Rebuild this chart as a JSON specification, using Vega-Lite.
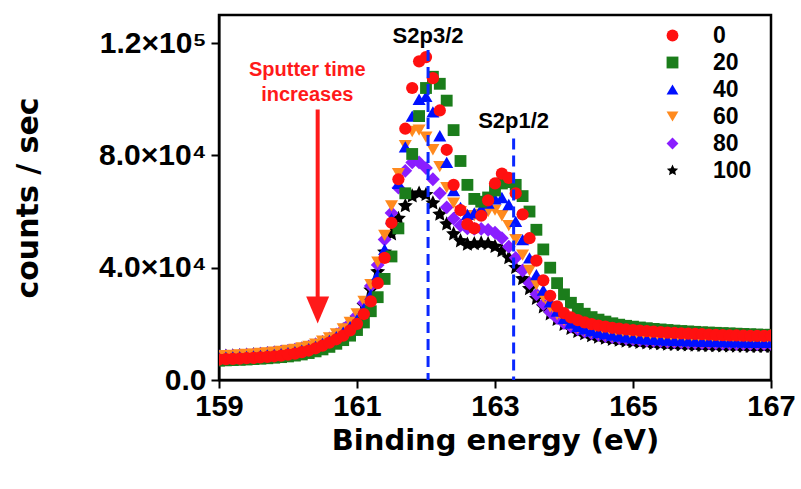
{
  "$schema": "https://vega.github.io/schema/vega-lite/v6.json",
  "width": 552,
  "height": 365,
  "autosize": {"type": "none"},
  "padding": {"left": 219, "top": 15, "right": 30, "bottom": 109},
  "background": "white",
  "config": {
    "view": {"stroke": "black", "strokeWidth": 2.5},
    "font": "Liberation Sans",
    "axis": {
      "grid": false,
      "domainColor": "black",
      "domainWidth": 2,
      "tickColor": "black",
      "tickWidth": 2,
      "tickSize": 8,
      "labelColor": "black",
      "labelFont": "Liberation Sans",
      "labelFontWeight": "bold",
      "labelFontSize": 29,
      "titleColor": "black",
      "titleFont": "DejaVu Sans",
      "titleFontWeight": "bold",
      "titleFontSize": 29,
      "labelFlush": false,
      "labelOverlap": false
    },
    "legend": {
      "orient": "none",
      "legendX": 442,
      "legendY": 9,
      "padding": 0,
      "labelFont": "Liberation Sans",
      "labelFontSize": 23,
      "labelFontWeight": "bold",
      "labelColor": "black",
      "labelOffset": 29,
      "rowPadding": 3,
      "symbolSize": 140,
      "symbolStrokeWidth": 0
    }
  },
  "datasets": {
    "spectra": [
      {"E":159.0,"s0":7300,"s20":6900,"s40":8000,"s60":8600,"s80":8500,"s100":8300},
      {"E":159.1,"s0":7400,"s20":7000,"s40":8100,"s60":8700,"s80":8600,"s100":8400},
      {"E":159.2,"s0":7500,"s20":7100,"s40":8200,"s60":8800,"s80":8700,"s100":8500},
      {"E":159.3,"s0":7600,"s20":7200,"s40":8300,"s60":8950,"s80":8850,"s100":8600},
      {"E":159.4,"s0":7750,"s20":7300,"s40":8450,"s60":9100,"s80":9000,"s100":8750},
      {"E":159.5,"s0":7900,"s20":7450,"s40":8600,"s60":9250,"s80":9150,"s100":8900},
      {"E":159.6,"s0":8050,"s20":7600,"s40":8750,"s60":9450,"s80":9350,"s100":9050},
      {"E":159.7,"s0":8250,"s20":7750,"s40":8950,"s60":9650,"s80":9550,"s100":9250},
      {"E":159.8,"s0":8450,"s20":7950,"s40":9150,"s60":9900,"s80":9800,"s100":9450},
      {"E":159.9,"s0":8700,"s20":8150,"s40":9400,"s60":10200,"s80":10100,"s100":9700},
      {"E":160.0,"s0":9000,"s20":8400,"s40":9700,"s60":10500,"s80":10400,"s100":10000},
      {"E":160.1,"s0":9400,"s20":8700,"s40":10100,"s60":10900,"s80":10800,"s100":10400},
      {"E":160.2,"s0":9900,"s20":9100,"s40":10600,"s60":11400,"s80":11300,"s100":10900},
      {"E":160.3,"s0":10500,"s20":9600,"s40":11200,"s60":12000,"s80":11900,"s100":11500},
      {"E":160.4,"s0":11300,"s20":10200,"s40":12000,"s60":12800,"s80":12700,"s100":12300},
      {"E":160.5,"s0":12200,"s20":10900,"s40":13000,"s60":13800,"s80":13600,"s100":13200},
      {"E":160.6,"s0":13300,"s20":11800,"s40":14100,"s60":15000,"s80":14800,"s100":14300},
      {"E":160.7,"s0":14500,"s20":12900,"s40":15400,"s60":16400,"s80":16200,"s100":15700},
      {"E":160.8,"s0":15800,"s20":14200,"s40":17000,"s60":18200,"s80":18000,"s100":17400},
      {"E":160.9,"s0":17700,"s20":15800,"s40":19000,"s60":20500,"s80":20200,"s100":19500},
      {"E":161.0,"s0":20000,"s20":17800,"s40":21500,"s60":23500,"s80":23000,"s100":22000},
      {"E":161.1,"s0":23500,"s20":20500,"s40":25500,"s60":28000,"s80":27500,"s100":26500},
      {"E":161.2,"s0":28000,"s20":24500,"s40":30500,"s60":34000,"s80":33500,"s100":32000},
      {"E":161.3,"s0":34500,"s20":29500,"s40":37500,"s60":42000,"s80":41000,"s100":38500},
      {"E":161.4,"s0":43500,"s20":36000,"s40":46500,"s60":51500,"s80":50000,"s100":45500},
      {"E":161.5,"s0":56000,"s20":44000,"s40":57500,"s60":62000,"s80":59500,"s100":52000},
      {"E":161.6,"s0":71500,"s20":54000,"s40":70000,"s60":73500,"s80":68500,"s100":57500},
      {"E":161.7,"s0":89500,"s20":66500,"s40":83000,"s60":83500,"s80":74500,"s100":62000},
      {"E":161.8,"s0":104000,"s20":80500,"s40":94000,"s60":88500,"s80":77500,"s100":65500},
      {"E":161.9,"s0":113500,"s20":94000,"s40":100000,"s60":89000,"s80":77500,"s100":66500},
      {"E":162.0,"s0":115000,"s20":104000,"s40":101000,"s60":86500,"s80":75500,"s100":66000},
      {"E":162.1,"s0":107500,"s20":108000,"s40":95500,"s60":82000,"s80":71500,"s100":63000},
      {"E":162.2,"s0":96000,"s20":105500,"s40":87000,"s60":76000,"s80":66500,"s100":59000},
      {"E":162.3,"s0":82000,"s20":99500,"s40":77500,"s60":68500,"s80":61500,"s100":55500},
      {"E":162.4,"s0":69500,"s20":89000,"s40":67500,"s60":63000,"s80":57500,"s100":52000},
      {"E":162.5,"s0":60500,"s20":78000,"s40":61500,"s60":60000,"s80":55000,"s100":49500},
      {"E":162.6,"s0":55500,"s20":69500,"s40":59000,"s60":58500,"s80":54000,"s100":48300},
      {"E":162.7,"s0":54000,"s20":64500,"s40":59500,"s60":58500,"s80":53800,"s100":48500},
      {"E":162.8,"s0":58500,"s20":63500,"s40":61000,"s60":59000,"s80":53800,"s100":48700},
      {"E":162.9,"s0":64000,"s20":65000,"s40":63000,"s60":60000,"s80":53500,"s100":48500},
      {"E":163.0,"s0":70000,"s20":67500,"s40":64500,"s60":60500,"s80":52500,"s100":47500},
      {"E":163.1,"s0":73500,"s20":70000,"s40":65000,"s60":58500,"s80":50500,"s100":46000},
      {"E":163.2,"s0":72000,"s20":70500,"s40":62500,"s60":55000,"s80":47500,"s100":43500},
      {"E":163.3,"s0":66500,"s20":69500,"s40":56500,"s60":50000,"s80":43500,"s100":40000},
      {"E":163.4,"s0":59000,"s20":65500,"s40":50000,"s60":44500,"s80":39000,"s100":36000},
      {"E":163.5,"s0":50500,"s20":60000,"s40":43500,"s60":39000,"s80":34500,"s100":32500},
      {"E":163.6,"s0":42500,"s20":53500,"s40":37500,"s60":34000,"s80":30500,"s100":29000},
      {"E":163.7,"s0":35500,"s20":46500,"s40":32000,"s60":29500,"s80":27000,"s100":26000},
      {"E":163.8,"s0":30000,"s20":40000,"s40":27800,"s60":26000,"s80":24200,"s100":23500},
      {"E":163.9,"s0":26200,"s20":34500,"s40":24500,"s60":23300,"s80":22000,"s100":21500},
      {"E":164.0,"s0":23800,"s20":30500,"s40":22000,"s60":21200,"s80":20300,"s100":19700},
      {"E":164.1,"s0":22300,"s20":27500,"s40":20300,"s60":19700,"s80":19000,"s100":18300},
      {"E":164.2,"s0":21300,"s20":25300,"s40":19100,"s60":18600,"s80":18000,"s100":17200},
      {"E":164.3,"s0":20500,"s20":23600,"s40":18200,"s60":17700,"s80":17200,"s100":16400},
      {"E":164.4,"s0":19900,"s20":22400,"s40":17500,"s60":17000,"s80":16600,"s100":15700},
      {"E":164.5,"s0":19400,"s20":21500,"s40":16900,"s60":16400,"s80":16100,"s100":15200},
      {"E":164.6,"s0":19000,"s20":20800,"s40":16400,"s60":15900,"s80":15650,"s100":14800},
      {"E":164.7,"s0":18600,"s20":20200,"s40":16000,"s60":15500,"s80":15300,"s100":14400},
      {"E":164.8,"s0":18300,"s20":19700,"s40":15600,"s60":15200,"s80":15000,"s100":14100},
      {"E":164.9,"s0":18000,"s20":19300,"s40":15300,"s60":14900,"s80":14700,"s100":13800},
      {"E":165.0,"s0":17800,"s20":19000,"s40":15000,"s60":14650,"s80":14450,"s100":13550},
      {"E":165.1,"s0":17600,"s20":18700,"s40":14800,"s60":14450,"s80":14250,"s100":13350},
      {"E":165.2,"s0":17400,"s20":18450,"s40":14600,"s60":14250,"s80":14050,"s100":13150},
      {"E":165.3,"s0":17200,"s20":18200,"s40":14450,"s60":14100,"s80":13900,"s100":13000},
      {"E":165.4,"s0":17050,"s20":18000,"s40":14300,"s60":13950,"s80":13750,"s100":12850},
      {"E":165.5,"s0":16900,"s20":17800,"s40":14200,"s60":13800,"s80":13600,"s100":12700},
      {"E":165.6,"s0":16750,"s20":17600,"s40":14100,"s60":13700,"s80":13500,"s100":12600},
      {"E":165.7,"s0":16600,"s20":17450,"s40":14000,"s60":13600,"s80":13400,"s100":12500},
      {"E":165.8,"s0":16500,"s20":17300,"s40":13900,"s60":13500,"s80":13300,"s100":12400},
      {"E":165.9,"s0":16400,"s20":17150,"s40":13850,"s60":13400,"s80":13200,"s100":12300},
      {"E":166.0,"s0":16300,"s20":17000,"s40":13800,"s60":13350,"s80":13150,"s100":12250},
      {"E":166.1,"s0":16200,"s20":16900,"s40":13750,"s60":13300,"s80":13100,"s100":12200},
      {"E":166.2,"s0":16100,"s20":16800,"s40":13700,"s60":13250,"s80":13050,"s100":12150},
      {"E":166.3,"s0":16000,"s20":16700,"s40":13650,"s60":13200,"s80":13000,"s100":12100},
      {"E":166.4,"s0":15900,"s20":16600,"s40":13600,"s60":13150,"s80":12950,"s100":12050},
      {"E":166.5,"s0":15850,"s20":16500,"s40":13550,"s60":13100,"s80":12900,"s100":12000},
      {"E":166.6,"s0":15800,"s20":16400,"s40":13500,"s60":13050,"s80":12850,"s100":11950},
      {"E":166.7,"s0":15750,"s20":16300,"s40":13450,"s60":13000,"s80":12800,"s100":11900},
      {"E":166.8,"s0":15700,"s20":16200,"s40":13400,"s60":13000,"s80":12800,"s100":11900},
      {"E":166.9,"s0":15700,"s20":16100,"s40":13400,"s60":12950,"s80":12750,"s100":11850},
      {"E":167.0,"s0":15800,"s20":16100,"s40":13400,"s60":12950,"s80":12750,"s100":11850}
    ],
    "peaks": [
      {"E": 162.03, "cps": 117500, "cps2": 0, "label": "S2p3/2", "labelY": 120000},
      {"E": 163.27, "cps": 86000, "cps2": 0, "label": "S2p1/2", "labelY": 89800}
    ],
    "note": [
      {"E": 160.28, "cps": 108400, "label": "Sputter time"},
      {"E": 160.28, "cps": 99500, "label": "increases"}
    ],
    "arrow": [
      {"E": 160.43, "cps": 96300, "cps2": 26000, "head": 24950}
    ]
  },
  "encoding": {
    "x": {
      "field": "E", "type": "quantitative",
      "scale": {"domain": [159, 167], "nice": false, "zero": false},
      "axis": {
        "title": "Binding energy (eV)",
        "values": [159, 161, 163, 165, 167],
        "format": "d",
        "labelPadding": 4,
        "titleBaseline": "alphabetic",
        "titleY": 69
      }
    }
  },
  "layer": [
    {
      "data": {"name": "spectra"},
      "transform": [
        {"fold": ["s0", "s20", "s40", "s60", "s80", "s100"], "as": ["series", "cps"]}
      ],
      "encoding": {
        "y": {
          "field": "cps", "type": "quantitative",
          "scale": {"domain": [0, 130000], "nice": false},
          "axis": {
            "title": "counts / sec",
            "titleFontSize": 30,
            "values": [0, 40000, 80000, 120000],
            "labelExpr": "datum.value == 0 ? '0.0' : datum.value == 40000 ? '4.0×10⁴' : datum.value == 80000 ? '8.0×10⁴' : '1.2×10⁵'",
            "labelFontSize": 30,
            "labelPadding": 5,
            "titleX": -191,
            "titleY": 182.5,
            "titleBaseline": "middle",
            "titleAngle": -90
          }
        },
        "color": {
          "field": "series", "type": "nominal",
          "scale": {
            "domain": ["s0", "s20", "s40", "s60", "s80", "s100"],
            "range": ["#ff1010", "#1b7d1b", "#0010ff", "#ff8a1e", "#8a1eff", "#000000"]
          },
          "legend": {"title": null, "labelExpr": "substring(datum.label, 1)"}
        },
        "shape": {
          "field": "series", "type": "nominal",
          "scale": {
            "domain": ["s0", "s20", "s40", "s60", "s80", "s100"],
            "range": ["circle", "square", "triangle-up", "triangle-down", "diamond", "M0,-1L0.282,-0.388L0.951,-0.309L0.456,0.148L0.588,0.809L0,0.48L-0.588,0.809L-0.456,0.148L-0.951,-0.309L-0.282,-0.388Z"]
          },
          "legend": {"title": null, "labelExpr": "substring(datum.label, 1)"}
        }
      },
      "layer": [
        {"transform": [{"filter": "datum.series === 's100'"}], "mark": {"type": "point", "filled": true, "opacity": 1, "size": 250, "clip": true}},
        {"transform": [{"filter": "datum.series === 's80'"}], "mark": {"type": "point", "filled": true, "opacity": 1, "size": 190, "clip": true}},
        {"transform": [{"filter": "datum.series === 's60'"}], "mark": {"type": "point", "filled": true, "opacity": 1, "size": 170, "clip": true}},
        {"transform": [{"filter": "datum.series === 's40'"}], "mark": {"type": "point", "filled": true, "opacity": 1, "size": 170, "clip": true}},
        {"transform": [{"filter": "datum.series === 's20'"}], "mark": {"type": "point", "filled": true, "opacity": 1, "size": 140, "clip": true}},
        {"transform": [{"filter": "datum.series === 's0'"}], "mark": {"type": "point", "filled": true, "opacity": 1, "size": 150, "clip": true}}
      ]
    },
    {
      "data": {"name": "peaks"},
      "mark": {"type": "rule", "color": "#0a28ff", "strokeWidth": 3, "strokeDash": [11, 6]},
      "encoding": {
        "y": {"field": "cps", "type": "quantitative"},
        "y2": {"field": "cps2"}
      }
    },
    {
      "data": {"name": "peaks"},
      "mark": {"type": "text", "font": "Liberation Sans", "fontWeight": "bold", "fontSize": 22, "color": "black", "align": "center", "baseline": "alphabetic"},
      "encoding": {
        "y": {"field": "labelY", "type": "quantitative"},
        "text": {"field": "label"}
      }
    },
    {
      "data": {"name": "note"},
      "mark": {"type": "text", "font": "Liberation Sans", "fontWeight": "bold", "fontSize": 20, "color": "#ff1a1a", "align": "center", "baseline": "alphabetic"},
      "encoding": {
        "y": {"field": "cps", "type": "quantitative"},
        "text": {"field": "label"}
      }
    },
    {
      "data": {"name": "arrow"},
      "mark": {"type": "rule", "color": "#ff1a1a", "strokeWidth": 4},
      "encoding": {
        "y": {"field": "cps", "type": "quantitative"},
        "y2": {"field": "cps2"}
      }
    },
    {
      "data": {"name": "arrow"},
      "mark": {"type": "point", "filled": true, "opacity": 1, "color": "#ff1a1a", "size": 729, "shape": "M-0.85,-1L0.85,-1L0,1Z"},
      "encoding": {
        "y": {"field": "head", "type": "quantitative"}
      }
    }
  ]
}
